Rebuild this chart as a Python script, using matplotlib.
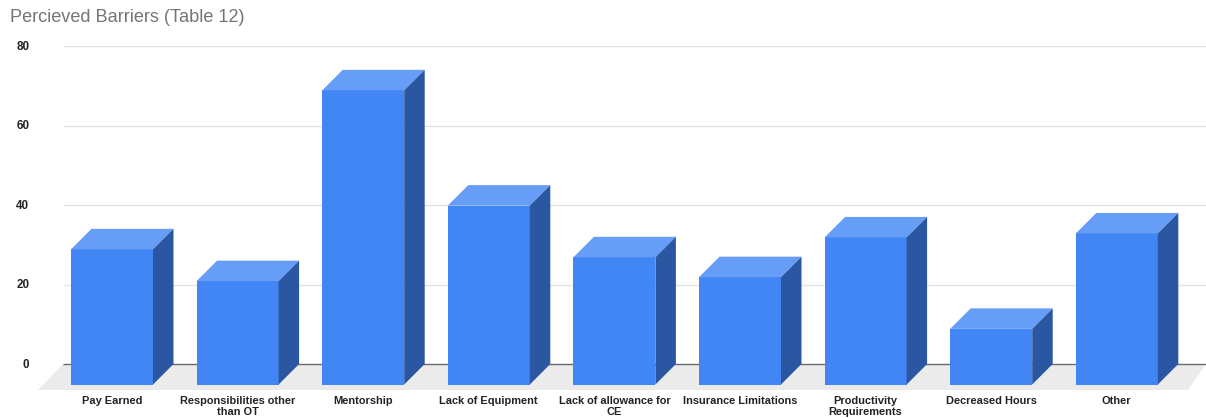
import matplotlib
matplotlib.use("Agg")
import matplotlib.pyplot as plt
from matplotlib.patches import Polygon, Rectangle
from matplotlib.transforms import ScaledTranslation

plt.rcParams['font.family'] = ['Liberation Sans', 'DejaVu Sans']

# Data
categories = [
    "Pay Earned",
    "Responsibilities other\nthan OT",
    "Mentorship",
    "Lack of Equipment",
    "Lack of allowance for\nCE",
    "Insurance Limitations",
    "Productivity\nRequirements",
    "Decreased Hours",
    "Other",
]
values = [34, 26, 74, 45, 32, 27, 37, 14, 38]
y_ticks = [0, 20, 40, 60, 80]
title = "Percieved Barriers (Table 12)"

# Styling
FRONT = "#4285F4"
TOP = "#669DF6"
SIDE = "#2A56A2"
FLOOR = "#EBEBEB"
GRID = "#E3E3E3"
ZERO = "#6B6B6B"
TEXT = "#222222"

W, H, DPI = 1206, 418, 100
fig = plt.figure(figsize=(W / DPI, H / DPI), dpi=DPI)

# axes placement in pixels
ax_left_px, ax_right_px = 38, 1206
ax_top_px, ax_bot_px = 46, 390
ax = fig.add_axes([ax_left_px / W, 1 - ax_bot_px / H,
                   (ax_right_px - ax_left_px) / W, (ax_bot_px - ax_top_px) / H])

step_px = 125.6          # pixels per category
first_px = 112           # pixel x of first front face centre
px_per_unit = (364 - 46) / 80.0

x_lo = (ax_left_px - first_px) / step_px
x_hi = (ax_right_px - first_px) / step_px
y_lo = -(ax_bot_px - 364) / px_per_unit
ax.set_xlim(x_lo, x_hi)
ax.set_ylim(y_lo, 80)

half_w = 41 / step_px           # half width of the front face
dx = 20.5 / step_px             # depth offset, x
dy = 20.5 / px_per_unit         # depth offset, y

# floor
floor_back_left = (63 - first_px) / step_px
floor_front_right = (1188 - first_px) / step_px
ax.add_patch(Polygon([(x_lo, y_lo), (floor_back_left, 0), (x_hi, 0),
                      (floor_front_right, y_lo)],
                     closed=True, facecolor=FLOOR, edgecolor="none", zorder=1))

# gridlines on the back wall
for t in y_ticks:
    ax.hlines(t, floor_back_left, x_hi, color=ZERO if t == 0 else GRID,
              linewidth=1.0, zorder=0.5 if t else 1.5)

# bars
for i, v in enumerate(values):
    xl, xr = i - half_w, i + half_w
    # front face (projected towards the viewer)
    ax.add_patch(Rectangle((xl, -dy), xr - xl, v, facecolor=FRONT,
                           edgecolor="none", zorder=3))
    # top face
    ax.add_patch(Polygon([(xl, v - dy), (xr, v - dy), (xr + dx, v), (xl + dx, v)],
                         closed=True, facecolor=TOP, edgecolor="none", zorder=3))
    # right side face
    ax.add_patch(Polygon([(xr, v - dy), (xr + dx, v), (xr + dx, 0), (xr, -dy)],
                         closed=True, facecolor=SIDE, edgecolor="none", zorder=3))

for s in ax.spines.values():
    s.set_visible(False)

ax.set_yticks(y_ticks)
ax.set_yticklabels([str(t) for t in y_ticks], fontsize=8.4, fontweight="bold",
                   color=TEXT)
ax.tick_params(axis="y", length=0, pad=6.3)
for lbl in ax.get_yticklabels():
    lbl.set_verticalalignment("baseline")
    lbl.set_transform(lbl.get_transform() +
                      ScaledTranslation(0, -3.8 / DPI, fig.dpi_scale_trans))

ax.set_xticks(range(len(categories)))
ax.set_xticklabels(categories, fontsize=7.9, fontweight="bold", color=TEXT,
                   linespacing=1.15)
ax.tick_params(axis="x", length=0, pad=4.2)

fig.text(10 / W, 1 - 17 / H, title, fontsize=13.1, color="#757575",
         ha="left", va="center")

fig.savefig("out.png", dpi=DPI, facecolor="white")
